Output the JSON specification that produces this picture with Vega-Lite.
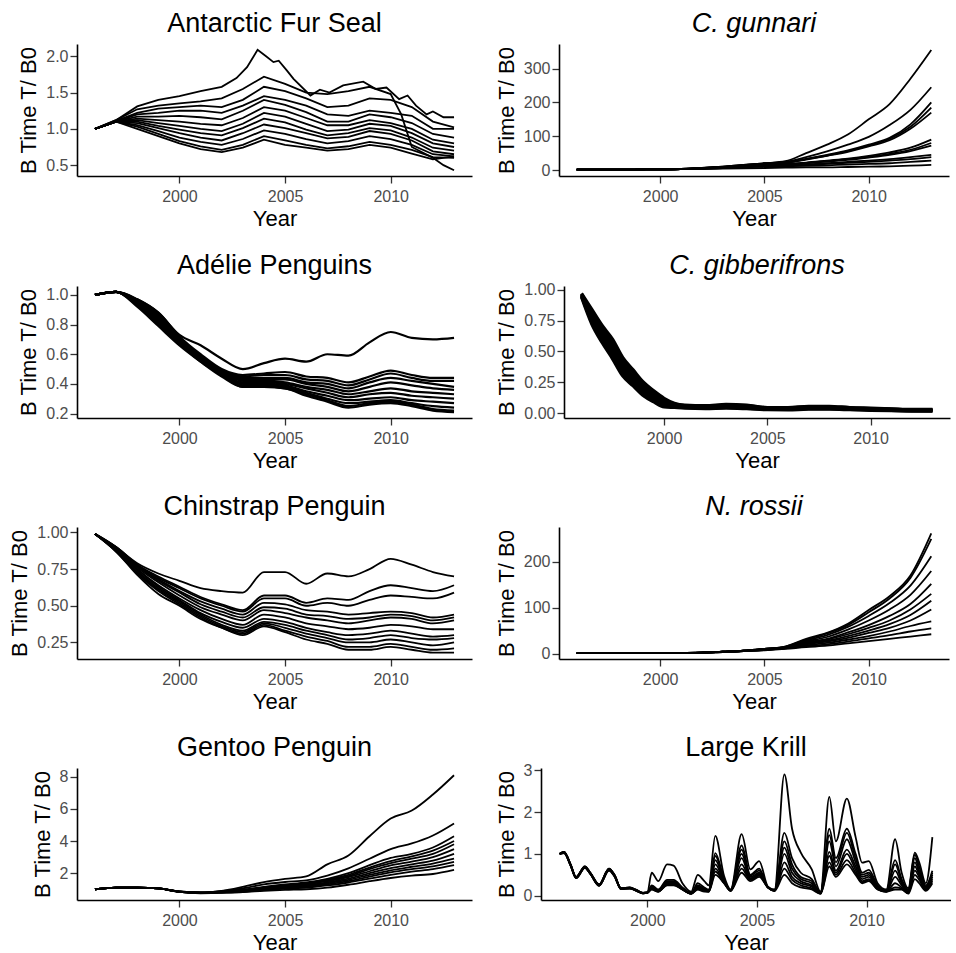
{
"$schema":"https://vega.github.io/schema/vega-lite/v6.json",
"padding":{"left":8,"top":10,"right":0,"bottom":0},
"spacing":22,
"config":{
 "font":"Liberation Sans",
 "view":{"stroke":null},
 "title":{"fontSize":27,"fontWeight":"normal","color":"black","anchor":"middle","frame":"group","offset":6},
 "axis":{"grid":false,"domainColor":"black","domainWidth":1.6,"tickColor":"#333333","tickWidth":1.3,"tickSize":7,"labelFontSize":16,"labelColor":"#4d4d4d","labelPadding":2,"titleFontSize":22,"titleFontWeight":"normal","titleColor":"black","titlePadding":5,"labelFlush":false,"labelOverlap":false},
 "axisX":{"labelPadding":5,"titlePadding":4},
 "line":{"color":"black","strokeWidth":1.8}
},
"datasets":{
"fur":[
{"s":1,"x":1996,"y":1},{"s":1,"x":1997,"y":1.12},{"s":1,"x":1998,"y":1.31},{"s":1,"x":1999,"y":1.4},{"s":1,"x":2000,"y":1.45},{"s":1,"x":2001,"y":1.52},{"s":1,"x":2002,"y":1.58},{"s":1,"x":2002.7,"y":1.7},{"s":1,"x":2003.2,"y":1.85},{"s":1,"x":2003.7,"y":2.09},{"s":1,"x":2004.1,"y":2},{"s":1,"x":2004.45,"y":1.92},{"s":1,"x":2004.7,"y":1.94},{"s":1,"x":2005.1,"y":1.8},{"s":1,"x":2005.4,"y":1.69},{"s":1,"x":2006.2,"y":1.46},{"s":1,"x":2006.65,"y":1.54},{"s":1,"x":2007.1,"y":1.5},{"s":1,"x":2007.75,"y":1.6},{"s":1,"x":2008.7,"y":1.65},{"s":1,"x":2009.3,"y":1.55},{"s":1,"x":2009.8,"y":1.57},{"s":1,"x":2010.4,"y":1.41},{"s":1,"x":2010.8,"y":1.46},{"s":1,"x":2011.2,"y":1.32},{"s":1,"x":2011.7,"y":1.2},{"s":1,"x":2012,"y":1.24},{"s":1,"x":2012.5,"y":1.16},{"s":1,"x":2013,"y":1.16},
{"s":2,"x":1996,"y":1},{"s":2,"x":1997,"y":1.12},{"s":2,"x":1998,"y":1.27},{"s":2,"x":1999,"y":1.32},{"s":2,"x":2000,"y":1.35},{"s":2,"x":2001,"y":1.38},{"s":2,"x":2002,"y":1.42},{"s":2,"x":2003,"y":1.55},{"s":2,"x":2004,"y":1.72},{"s":2,"x":2005,"y":1.62},{"s":2,"x":2006,"y":1.5},{"s":2,"x":2007,"y":1.48},{"s":2,"x":2008,"y":1.52},{"s":2,"x":2009,"y":1.58},{"s":2,"x":2010,"y":1.48},{"s":2,"x":2010.5,"y":1.2},{"s":2,"x":2011,"y":0.75},{"s":2,"x":2012,"y":0.6},{"s":2,"x":2012.5,"y":0.5},{"s":2,"x":2013,"y":0.43},
{"s":3,"x":1996,"y":1},{"s":3,"x":1997,"y":1.11},{"s":3,"x":1998,"y":1.22},{"s":3,"x":1999,"y":1.28},{"s":3,"x":2000,"y":1.3},{"s":3,"x":2001,"y":1.32},{"s":3,"x":2002,"y":1.3},{"s":3,"x":2003,"y":1.4},{"s":3,"x":2004,"y":1.58},{"s":3,"x":2005,"y":1.52},{"s":3,"x":2006,"y":1.42},{"s":3,"x":2007,"y":1.3},{"s":3,"x":2008,"y":1.32},{"s":3,"x":2009,"y":1.42},{"s":3,"x":2010,"y":1.4},{"s":3,"x":2011,"y":1.3},{"s":3,"x":2012,"y":1.1},{"s":3,"x":2013,"y":1.02},
{"s":4,"x":1996,"y":1},{"s":4,"x":1997,"y":1.1},{"s":4,"x":1998,"y":1.2},{"s":4,"x":1999,"y":1.22},{"s":4,"x":2000,"y":1.25},{"s":4,"x":2001,"y":1.25},{"s":4,"x":2002,"y":1.22},{"s":4,"x":2003,"y":1.32},{"s":4,"x":2004,"y":1.45},{"s":4,"x":2005,"y":1.4},{"s":4,"x":2006,"y":1.32},{"s":4,"x":2007,"y":1.2},{"s":4,"x":2008,"y":1.18},{"s":4,"x":2009,"y":1.25},{"s":4,"x":2010,"y":1.22},{"s":4,"x":2011,"y":1.18},{"s":4,"x":2012,"y":1},{"s":4,"x":2013,"y":1},
{"s":5,"x":1996,"y":1},{"s":5,"x":1997,"y":1.1},{"s":5,"x":1998,"y":1.17},{"s":5,"x":1999,"y":1.17},{"s":5,"x":2000,"y":1.18},{"s":5,"x":2001,"y":1.16},{"s":5,"x":2002,"y":1.13},{"s":5,"x":2003,"y":1.25},{"s":5,"x":2004,"y":1.4},{"s":5,"x":2005,"y":1.33},{"s":5,"x":2006,"y":1.23},{"s":5,"x":2007,"y":1.1},{"s":5,"x":2008,"y":1.1},{"s":5,"x":2009,"y":1.2},{"s":5,"x":2010,"y":1.16},{"s":5,"x":2011,"y":1.08},{"s":5,"x":2012,"y":0.93},{"s":5,"x":2013,"y":0.88},
{"s":6,"x":1996,"y":1},{"s":6,"x":1997,"y":1.1},{"s":6,"x":1998,"y":1.14},{"s":6,"x":1999,"y":1.12},{"s":6,"x":2000,"y":1.1},{"s":6,"x":2001,"y":1.07},{"s":6,"x":2002,"y":1.05},{"s":6,"x":2003,"y":1.15},{"s":6,"x":2004,"y":1.3},{"s":6,"x":2005,"y":1.25},{"s":6,"x":2006,"y":1.15},{"s":6,"x":2007,"y":1.05},{"s":6,"x":2008,"y":1.05},{"s":6,"x":2009,"y":1.12},{"s":6,"x":2010,"y":1.08},{"s":6,"x":2011,"y":1},{"s":6,"x":2012,"y":0.85},{"s":6,"x":2013,"y":0.8},
{"s":7,"x":1996,"y":1},{"s":7,"x":1997,"y":1.1},{"s":7,"x":1998,"y":1.12},{"s":7,"x":1999,"y":1.08},{"s":7,"x":2000,"y":1.04},{"s":7,"x":2001,"y":1},{"s":7,"x":2002,"y":0.97},{"s":7,"x":2003,"y":1.07},{"s":7,"x":2004,"y":1.22},{"s":7,"x":2005,"y":1.17},{"s":7,"x":2006,"y":1.07},{"s":7,"x":2007,"y":0.97},{"s":7,"x":2008,"y":0.99},{"s":7,"x":2009,"y":1.07},{"s":7,"x":2010,"y":1.04},{"s":7,"x":2011,"y":0.94},{"s":7,"x":2012,"y":0.8},{"s":7,"x":2013,"y":0.75},
{"s":8,"x":1996,"y":1},{"s":8,"x":1997,"y":1.1},{"s":8,"x":1998,"y":1.1},{"s":8,"x":1999,"y":1.04},{"s":8,"x":2000,"y":0.99},{"s":8,"x":2001,"y":0.94},{"s":8,"x":2002,"y":0.91},{"s":8,"x":2003,"y":1.01},{"s":8,"x":2004,"y":1.14},{"s":8,"x":2005,"y":1.09},{"s":8,"x":2006,"y":0.99},{"s":8,"x":2007,"y":0.91},{"s":8,"x":2008,"y":0.94},{"s":8,"x":2009,"y":1.01},{"s":8,"x":2010,"y":0.98},{"s":8,"x":2011,"y":0.88},{"s":8,"x":2012,"y":0.74},{"s":8,"x":2013,"y":0.7},
{"s":9,"x":1996,"y":1},{"s":9,"x":1997,"y":1.1},{"s":9,"x":1998,"y":1.08},{"s":9,"x":1999,"y":1.01},{"s":9,"x":2000,"y":0.94},{"s":9,"x":2001,"y":0.88},{"s":9,"x":2002,"y":0.84},{"s":9,"x":2003,"y":0.94},{"s":9,"x":2004,"y":1.06},{"s":9,"x":2005,"y":1.01},{"s":9,"x":2006,"y":0.94},{"s":9,"x":2007,"y":0.87},{"s":9,"x":2008,"y":0.89},{"s":9,"x":2009,"y":0.97},{"s":9,"x":2010,"y":0.93},{"s":9,"x":2011,"y":0.84},{"s":9,"x":2012,"y":0.69},{"s":9,"x":2013,"y":0.65},
{"s":10,"x":1996,"y":1},{"s":10,"x":1997,"y":1.1},{"s":10,"x":1998,"y":1.05},{"s":10,"x":1999,"y":0.97},{"s":10,"x":2000,"y":0.88},{"s":10,"x":2001,"y":0.82},{"s":10,"x":2002,"y":0.78},{"s":10,"x":2003,"y":0.86},{"s":10,"x":2004,"y":0.98},{"s":10,"x":2005,"y":0.93},{"s":10,"x":2006,"y":0.86},{"s":10,"x":2007,"y":0.8},{"s":10,"x":2008,"y":0.83},{"s":10,"x":2009,"y":0.9},{"s":10,"x":2010,"y":0.86},{"s":10,"x":2011,"y":0.78},{"s":10,"x":2012,"y":0.65},{"s":10,"x":2013,"y":0.62},
{"s":11,"x":1996,"y":1},{"s":11,"x":1997,"y":1.1},{"s":11,"x":1998,"y":1.03},{"s":11,"x":1999,"y":0.93},{"s":11,"x":2000,"y":0.83},{"s":11,"x":2001,"y":0.76},{"s":11,"x":2002,"y":0.71},{"s":11,"x":2003,"y":0.78},{"s":11,"x":2004,"y":0.9},{"s":11,"x":2005,"y":0.84},{"s":11,"x":2006,"y":0.78},{"s":11,"x":2007,"y":0.73},{"s":11,"x":2008,"y":0.76},{"s":11,"x":2009,"y":0.82},{"s":11,"x":2010,"y":0.78},{"s":11,"x":2011,"y":0.71},{"s":11,"x":2012,"y":0.61},{"s":11,"x":2013,"y":0.6},
{"s":12,"x":1996,"y":1},{"s":12,"x":1997,"y":1.1},{"s":12,"x":1998,"y":1},{"s":12,"x":1999,"y":0.9},{"s":12,"x":2000,"y":0.8},{"s":12,"x":2001,"y":0.72},{"s":12,"x":2002,"y":0.68},{"s":12,"x":2003,"y":0.74},{"s":12,"x":2004,"y":0.85},{"s":12,"x":2005,"y":0.78},{"s":12,"x":2006,"y":0.74},{"s":12,"x":2007,"y":0.7},{"s":12,"x":2008,"y":0.72},{"s":12,"x":2009,"y":0.78},{"s":12,"x":2010,"y":0.74},{"s":12,"x":2011,"y":0.66},{"s":12,"x":2012,"y":0.58},{"s":12,"x":2013,"y":0.62}
],
"gun":[
{"s":1,"x":1996,"y":1},{"s":1,"x":1997,"y":1},{"s":1,"x":1998,"y":1},{"s":1,"x":1999,"y":1.5},{"s":1,"x":2000,"y":2},{"s":1,"x":2001,"y":3},{"s":1,"x":2002,"y":6},{"s":1,"x":2003,"y":10},{"s":1,"x":2004,"y":15},{"s":1,"x":2005,"y":20},{"s":1,"x":2006,"y":26},{"s":1,"x":2007,"y":50},{"s":1,"x":2008,"y":75},{"s":1,"x":2009,"y":105},{"s":1,"x":2010,"y":150},{"s":1,"x":2011,"y":195},{"s":1,"x":2012,"y":270},{"s":1,"x":2013,"y":355},
{"s":2,"x":1996,"y":1},{"s":2,"x":1997,"y":1},{"s":2,"x":1998,"y":1},{"s":2,"x":1999,"y":1.5},{"s":2,"x":2000,"y":2},{"s":2,"x":2001,"y":3},{"s":2,"x":2002,"y":6},{"s":2,"x":2003,"y":10},{"s":2,"x":2004,"y":15},{"s":2,"x":2005,"y":20},{"s":2,"x":2006,"y":24},{"s":2,"x":2007,"y":38},{"s":2,"x":2008,"y":55},{"s":2,"x":2009,"y":75},{"s":2,"x":2010,"y":98},{"s":2,"x":2011,"y":133},{"s":2,"x":2012,"y":178},{"s":2,"x":2013,"y":245},
{"s":3,"x":1996,"y":1},{"s":3,"x":1997,"y":1},{"s":3,"x":1998,"y":1},{"s":3,"x":1999,"y":1.5},{"s":3,"x":2000,"y":2},{"s":3,"x":2001,"y":3},{"s":3,"x":2002,"y":6},{"s":3,"x":2003,"y":9},{"s":3,"x":2004,"y":14},{"s":3,"x":2005,"y":19},{"s":3,"x":2006,"y":22},{"s":3,"x":2007,"y":33},{"s":3,"x":2008,"y":45},{"s":3,"x":2009,"y":58},{"s":3,"x":2010,"y":75},{"s":3,"x":2011,"y":95},{"s":3,"x":2012,"y":135},{"s":3,"x":2013,"y":200},
{"s":4,"x":1996,"y":1},{"s":4,"x":1997,"y":1},{"s":4,"x":1998,"y":1},{"s":4,"x":1999,"y":1.5},{"s":4,"x":2000,"y":2},{"s":4,"x":2001,"y":3},{"s":4,"x":2002,"y":6},{"s":4,"x":2003,"y":9},{"s":4,"x":2004,"y":14},{"s":4,"x":2005,"y":19},{"s":4,"x":2006,"y":22},{"s":4,"x":2007,"y":32},{"s":4,"x":2008,"y":43},{"s":4,"x":2009,"y":56},{"s":4,"x":2010,"y":72},{"s":4,"x":2011,"y":92},{"s":4,"x":2012,"y":128},{"s":4,"x":2013,"y":185},
{"s":5,"x":1996,"y":1},{"s":5,"x":1997,"y":1},{"s":5,"x":1998,"y":1},{"s":5,"x":1999,"y":1.5},{"s":5,"x":2000,"y":2},{"s":5,"x":2001,"y":3},{"s":5,"x":2002,"y":5},{"s":5,"x":2003,"y":9},{"s":5,"x":2004,"y":13},{"s":5,"x":2005,"y":18},{"s":5,"x":2006,"y":21},{"s":5,"x":2007,"y":31},{"s":5,"x":2008,"y":42},{"s":5,"x":2009,"y":54},{"s":5,"x":2010,"y":70},{"s":5,"x":2011,"y":88},{"s":5,"x":2012,"y":122},{"s":5,"x":2013,"y":170},
{"s":6,"x":1996,"y":1},{"s":6,"x":1997,"y":1},{"s":6,"x":1998,"y":1},{"s":6,"x":1999,"y":1.5},{"s":6,"x":2000,"y":2},{"s":6,"x":2001,"y":3},{"s":6,"x":2002,"y":5},{"s":6,"x":2003,"y":8},{"s":6,"x":2004,"y":12},{"s":6,"x":2005,"y":16},{"s":6,"x":2006,"y":18},{"s":6,"x":2007,"y":22},{"s":6,"x":2008,"y":28},{"s":6,"x":2009,"y":34},{"s":6,"x":2010,"y":42},{"s":6,"x":2011,"y":52},{"s":6,"x":2012,"y":66},{"s":6,"x":2013,"y":90},
{"s":7,"x":1996,"y":1},{"s":7,"x":1997,"y":1},{"s":7,"x":1998,"y":1},{"s":7,"x":1999,"y":1.5},{"s":7,"x":2000,"y":2},{"s":7,"x":2001,"y":3},{"s":7,"x":2002,"y":5},{"s":7,"x":2003,"y":8},{"s":7,"x":2004,"y":11},{"s":7,"x":2005,"y":15},{"s":7,"x":2006,"y":17},{"s":7,"x":2007,"y":21},{"s":7,"x":2008,"y":26},{"s":7,"x":2009,"y":32},{"s":7,"x":2010,"y":39},{"s":7,"x":2011,"y":48},{"s":7,"x":2012,"y":60},{"s":7,"x":2013,"y":80},
{"s":8,"x":1996,"y":1},{"s":8,"x":1997,"y":1},{"s":8,"x":1998,"y":1},{"s":8,"x":1999,"y":1.5},{"s":8,"x":2000,"y":2},{"s":8,"x":2001,"y":3},{"s":8,"x":2002,"y":5},{"s":8,"x":2003,"y":8},{"s":8,"x":2004,"y":11},{"s":8,"x":2005,"y":14},{"s":8,"x":2006,"y":16},{"s":8,"x":2007,"y":20},{"s":8,"x":2008,"y":25},{"s":8,"x":2009,"y":30},{"s":8,"x":2010,"y":37},{"s":8,"x":2011,"y":45},{"s":8,"x":2012,"y":56},{"s":8,"x":2013,"y":72},
{"s":9,"x":1996,"y":1},{"s":9,"x":1997,"y":1},{"s":9,"x":1998,"y":1},{"s":9,"x":1999,"y":1.5},{"s":9,"x":2000,"y":2},{"s":9,"x":2001,"y":3},{"s":9,"x":2002,"y":5},{"s":9,"x":2003,"y":7},{"s":9,"x":2004,"y":10},{"s":9,"x":2005,"y":13},{"s":9,"x":2006,"y":14},{"s":9,"x":2007,"y":16},{"s":9,"x":2008,"y":20},{"s":9,"x":2009,"y":24},{"s":9,"x":2010,"y":28},{"s":9,"x":2011,"y":32},{"s":9,"x":2012,"y":38},{"s":9,"x":2013,"y":45},
{"s":10,"x":1996,"y":1},{"s":10,"x":1997,"y":1},{"s":10,"x":1998,"y":1},{"s":10,"x":1999,"y":1.5},{"s":10,"x":2000,"y":2},{"s":10,"x":2001,"y":3},{"s":10,"x":2002,"y":4},{"s":10,"x":2003,"y":7},{"s":10,"x":2004,"y":9},{"s":10,"x":2005,"y":12},{"s":10,"x":2006,"y":13},{"s":10,"x":2007,"y":15},{"s":10,"x":2008,"y":18},{"s":10,"x":2009,"y":21},{"s":10,"x":2010,"y":24},{"s":10,"x":2011,"y":28},{"s":10,"x":2012,"y":32},{"s":10,"x":2013,"y":38},
{"s":11,"x":1996,"y":1},{"s":11,"x":1997,"y":1},{"s":11,"x":1998,"y":1},{"s":11,"x":1999,"y":1.5},{"s":11,"x":2000,"y":2},{"s":11,"x":2001,"y":3},{"s":11,"x":2002,"y":4},{"s":11,"x":2003,"y":6},{"s":11,"x":2004,"y":8},{"s":11,"x":2005,"y":10},{"s":11,"x":2006,"y":11},{"s":11,"x":2007,"y":12},{"s":11,"x":2008,"y":14},{"s":11,"x":2009,"y":16},{"s":11,"x":2010,"y":18},{"s":11,"x":2011,"y":20},{"s":11,"x":2012,"y":24},{"s":11,"x":2013,"y":28},
{"s":12,"x":1996,"y":1},{"s":12,"x":1997,"y":1},{"s":12,"x":1998,"y":1},{"s":12,"x":1999,"y":1.5},{"s":12,"x":2000,"y":2},{"s":12,"x":2001,"y":2.5},{"s":12,"x":2002,"y":3},{"s":12,"x":2003,"y":4},{"s":12,"x":2004,"y":5},{"s":12,"x":2005,"y":6},{"s":12,"x":2006,"y":7},{"s":12,"x":2007,"y":8},{"s":12,"x":2008,"y":8},{"s":12,"x":2009,"y":9},{"s":12,"x":2010,"y":10},{"s":12,"x":2011,"y":11},{"s":12,"x":2012,"y":13},{"s":12,"x":2013,"y":15}
],
"ade":[
{"s":1,"x":1996,"y":1},{"s":1,"x":1997,"y":1.02},{"s":1,"x":1998,"y":0.97},{"s":1,"x":1999,"y":0.88},{"s":1,"x":2000,"y":0.73},{"s":1,"x":2001,"y":0.66},{"s":1,"x":2002,"y":0.57},{"s":1,"x":2003,"y":0.5},{"s":1,"x":2004,"y":0.54},{"s":1,"x":2005,"y":0.57},{"s":1,"x":2006,"y":0.55},{"s":1,"x":2007,"y":0.6},{"s":1,"x":2008,"y":0.59},{"s":1,"x":2009,"y":0.68},{"s":1,"x":2010,"y":0.75},{"s":1,"x":2011,"y":0.71},{"s":1,"x":2012,"y":0.7},{"s":1,"x":2013,"y":0.71},
{"s":2,"x":1996,"y":1},{"s":2,"x":1997,"y":1.02},{"s":2,"x":1998,"y":0.97},{"s":2,"x":1999,"y":0.88},{"s":2,"x":2000,"y":0.72},{"s":2,"x":2001,"y":0.6},{"s":2,"x":2002,"y":0.5},{"s":2,"x":2003,"y":0.46},{"s":2,"x":2004,"y":0.47},{"s":2,"x":2005,"y":0.48},{"s":2,"x":2006,"y":0.45},{"s":2,"x":2007,"y":0.44},{"s":2,"x":2008,"y":0.41},{"s":2,"x":2009,"y":0.45},{"s":2,"x":2010,"y":0.49},{"s":2,"x":2011,"y":0.46},{"s":2,"x":2012,"y":0.44},{"s":2,"x":2013,"y":0.44},
{"s":3,"x":1996,"y":1},{"s":3,"x":1997,"y":1.02},{"s":3,"x":1998,"y":0.96},{"s":3,"x":1999,"y":0.87},{"s":3,"x":2000,"y":0.71},{"s":3,"x":2001,"y":0.59},{"s":3,"x":2002,"y":0.49},{"s":3,"x":2003,"y":0.45},{"s":3,"x":2004,"y":0.46},{"s":3,"x":2005,"y":0.46},{"s":3,"x":2006,"y":0.43},{"s":3,"x":2007,"y":0.42},{"s":3,"x":2008,"y":0.39},{"s":3,"x":2009,"y":0.43},{"s":3,"x":2010,"y":0.47},{"s":3,"x":2011,"y":0.44},{"s":3,"x":2012,"y":0.42},{"s":3,"x":2013,"y":0.42},
{"s":4,"x":1996,"y":1},{"s":4,"x":1997,"y":1.02},{"s":4,"x":1998,"y":0.96},{"s":4,"x":1999,"y":0.86},{"s":4,"x":2000,"y":0.71},{"s":4,"x":2001,"y":0.58},{"s":4,"x":2002,"y":0.49},{"s":4,"x":2003,"y":0.44},{"s":4,"x":2004,"y":0.44},{"s":4,"x":2005,"y":0.44},{"s":4,"x":2006,"y":0.41},{"s":4,"x":2007,"y":0.4},{"s":4,"x":2008,"y":0.37},{"s":4,"x":2009,"y":0.41},{"s":4,"x":2010,"y":0.44},{"s":4,"x":2011,"y":0.42},{"s":4,"x":2012,"y":0.4},{"s":4,"x":2013,"y":0.38},
{"s":5,"x":1996,"y":1},{"s":5,"x":1997,"y":1.02},{"s":5,"x":1998,"y":0.95},{"s":5,"x":1999,"y":0.85},{"s":5,"x":2000,"y":0.7},{"s":5,"x":2001,"y":0.58},{"s":5,"x":2002,"y":0.48},{"s":5,"x":2003,"y":0.43},{"s":5,"x":2004,"y":0.43},{"s":5,"x":2005,"y":0.43},{"s":5,"x":2006,"y":0.4},{"s":5,"x":2007,"y":0.38},{"s":5,"x":2008,"y":0.35},{"s":5,"x":2009,"y":0.38},{"s":5,"x":2010,"y":0.41},{"s":5,"x":2011,"y":0.39},{"s":5,"x":2012,"y":0.37},{"s":5,"x":2013,"y":0.36},
{"s":6,"x":1996,"y":1},{"s":6,"x":1997,"y":1.02},{"s":6,"x":1998,"y":0.95},{"s":6,"x":1999,"y":0.84},{"s":6,"x":2000,"y":0.69},{"s":6,"x":2001,"y":0.57},{"s":6,"x":2002,"y":0.48},{"s":6,"x":2003,"y":0.42},{"s":6,"x":2004,"y":0.42},{"s":6,"x":2005,"y":0.41},{"s":6,"x":2006,"y":0.38},{"s":6,"x":2007,"y":0.36},{"s":6,"x":2008,"y":0.33},{"s":6,"x":2009,"y":0.35},{"s":6,"x":2010,"y":0.37},{"s":6,"x":2011,"y":0.35},{"s":6,"x":2012,"y":0.34},{"s":6,"x":2013,"y":0.33},
{"s":7,"x":1996,"y":1},{"s":7,"x":1997,"y":1.02},{"s":7,"x":1998,"y":0.94},{"s":7,"x":1999,"y":0.83},{"s":7,"x":2000,"y":0.69},{"s":7,"x":2001,"y":0.57},{"s":7,"x":2002,"y":0.47},{"s":7,"x":2003,"y":0.41},{"s":7,"x":2004,"y":0.41},{"s":7,"x":2005,"y":0.4},{"s":7,"x":2006,"y":0.37},{"s":7,"x":2007,"y":0.34},{"s":7,"x":2008,"y":0.31},{"s":7,"x":2009,"y":0.33},{"s":7,"x":2010,"y":0.34},{"s":7,"x":2011,"y":0.32},{"s":7,"x":2012,"y":0.31},{"s":7,"x":2013,"y":0.3},
{"s":8,"x":1996,"y":1},{"s":8,"x":1997,"y":1.02},{"s":8,"x":1998,"y":0.94},{"s":8,"x":1999,"y":0.82},{"s":8,"x":2000,"y":0.68},{"s":8,"x":2001,"y":0.56},{"s":8,"x":2002,"y":0.47},{"s":8,"x":2003,"y":0.4},{"s":8,"x":2004,"y":0.4},{"s":8,"x":2005,"y":0.39},{"s":8,"x":2006,"y":0.35},{"s":8,"x":2007,"y":0.32},{"s":8,"x":2008,"y":0.29},{"s":8,"x":2009,"y":0.3},{"s":8,"x":2010,"y":0.31},{"s":8,"x":2011,"y":0.29},{"s":8,"x":2012,"y":0.28},{"s":8,"x":2013,"y":0.27},
{"s":9,"x":1996,"y":1},{"s":9,"x":1997,"y":1.02},{"s":9,"x":1998,"y":0.93},{"s":9,"x":1999,"y":0.81},{"s":9,"x":2000,"y":0.67},{"s":9,"x":2001,"y":0.56},{"s":9,"x":2002,"y":0.46},{"s":9,"x":2003,"y":0.39},{"s":9,"x":2004,"y":0.39},{"s":9,"x":2005,"y":0.38},{"s":9,"x":2006,"y":0.34},{"s":9,"x":2007,"y":0.3},{"s":9,"x":2008,"y":0.27},{"s":9,"x":2009,"y":0.28},{"s":9,"x":2010,"y":0.29},{"s":9,"x":2011,"y":0.27},{"s":9,"x":2012,"y":0.25},{"s":9,"x":2013,"y":0.24},
{"s":10,"x":1996,"y":1},{"s":10,"x":1997,"y":1.02},{"s":10,"x":1998,"y":0.93},{"s":10,"x":1999,"y":0.8},{"s":10,"x":2000,"y":0.67},{"s":10,"x":2001,"y":0.55},{"s":10,"x":2002,"y":0.46},{"s":10,"x":2003,"y":0.38},{"s":10,"x":2004,"y":0.38},{"s":10,"x":2005,"y":0.37},{"s":10,"x":2006,"y":0.33},{"s":10,"x":2007,"y":0.29},{"s":10,"x":2008,"y":0.25},{"s":10,"x":2009,"y":0.27},{"s":10,"x":2010,"y":0.28},{"s":10,"x":2011,"y":0.26},{"s":10,"x":2012,"y":0.23},{"s":10,"x":2013,"y":0.22},
{"s":11,"x":1996,"y":1},{"s":11,"x":1997,"y":1.02},{"s":11,"x":1998,"y":0.92},{"s":11,"x":1999,"y":0.79},{"s":11,"x":2000,"y":0.66},{"s":11,"x":2001,"y":0.55},{"s":11,"x":2002,"y":0.45},{"s":11,"x":2003,"y":0.38},{"s":11,"x":2004,"y":0.38},{"s":11,"x":2005,"y":0.37},{"s":11,"x":2006,"y":0.32},{"s":11,"x":2007,"y":0.28},{"s":11,"x":2008,"y":0.24},{"s":11,"x":2009,"y":0.26},{"s":11,"x":2010,"y":0.27},{"s":11,"x":2011,"y":0.25},{"s":11,"x":2012,"y":0.22},{"s":11,"x":2013,"y":0.21}
],
"gib":[
{"s":1,"x":1996,"y":0.97},{"s":1,"x":1996.5,"y":0.84},{"s":1,"x":1997,"y":0.71},{"s":1,"x":1997.5,"y":0.6},{"s":1,"x":1998,"y":0.45},{"s":1,"x":1998.5,"y":0.35},{"s":1,"x":1999,"y":0.25},{"s":1,"x":1999.5,"y":0.18},{"s":1,"x":2000,"y":0.12},{"s":1,"x":2000.5,"y":0.08},{"s":1,"x":2001,"y":0.065},{"s":1,"x":2002,"y":0.06},{"s":1,"x":2003,"y":0.07},{"s":1,"x":2004,"y":0.065},{"s":1,"x":2005,"y":0.045},{"s":1,"x":2006,"y":0.045},{"s":1,"x":2007,"y":0.055},{"s":1,"x":2008,"y":0.055},{"s":1,"x":2009,"y":0.045},{"s":1,"x":2010,"y":0.04},{"s":1,"x":2011,"y":0.035},{"s":1,"x":2012,"y":0.03},{"s":1,"x":2013,"y":0.03},
{"s":2,"x":1996,"y":0.965},{"s":2,"x":1996.5,"y":0.82},{"s":2,"x":1997,"y":0.69},{"s":2,"x":1997.5,"y":0.57},{"s":2,"x":1998,"y":0.43},{"s":2,"x":1998.5,"y":0.33},{"s":2,"x":1999,"y":0.23},{"s":2,"x":1999.5,"y":0.165},{"s":2,"x":2000,"y":0.108},{"s":2,"x":2000.5,"y":0.074},{"s":2,"x":2001,"y":0.061},{"s":2,"x":2002,"y":0.056},{"s":2,"x":2003,"y":0.065},{"s":2,"x":2004,"y":0.06},{"s":2,"x":2005,"y":0.043},{"s":2,"x":2006,"y":0.042},{"s":2,"x":2007,"y":0.051},{"s":2,"x":2008,"y":0.051},{"s":2,"x":2009,"y":0.043},{"s":2,"x":2010,"y":0.037},{"s":2,"x":2011,"y":0.033},{"s":2,"x":2012,"y":0.028},{"s":2,"x":2013,"y":0.028},
{"s":3,"x":1996,"y":0.96},{"s":3,"x":1996.5,"y":0.8},{"s":3,"x":1997,"y":0.66},{"s":3,"x":1997.5,"y":0.54},{"s":3,"x":1998,"y":0.4},{"s":3,"x":1998.5,"y":0.3},{"s":3,"x":1999,"y":0.21},{"s":3,"x":1999.5,"y":0.15},{"s":3,"x":2000,"y":0.095},{"s":3,"x":2000.5,"y":0.068},{"s":3,"x":2001,"y":0.057},{"s":3,"x":2002,"y":0.052},{"s":3,"x":2003,"y":0.06},{"s":3,"x":2004,"y":0.055},{"s":3,"x":2005,"y":0.04},{"s":3,"x":2006,"y":0.039},{"s":3,"x":2007,"y":0.047},{"s":3,"x":2008,"y":0.047},{"s":3,"x":2009,"y":0.04},{"s":3,"x":2010,"y":0.034},{"s":3,"x":2011,"y":0.031},{"s":3,"x":2012,"y":0.026},{"s":3,"x":2013,"y":0.025},
{"s":4,"x":1996,"y":0.955},{"s":4,"x":1996.5,"y":0.78},{"s":4,"x":1997,"y":0.64},{"s":4,"x":1997.5,"y":0.52},{"s":4,"x":1998,"y":0.38},{"s":4,"x":1998.5,"y":0.28},{"s":4,"x":1999,"y":0.195},{"s":4,"x":1999.5,"y":0.135},{"s":4,"x":2000,"y":0.085},{"s":4,"x":2000.5,"y":0.062},{"s":4,"x":2001,"y":0.053},{"s":4,"x":2002,"y":0.048},{"s":4,"x":2003,"y":0.055},{"s":4,"x":2004,"y":0.05},{"s":4,"x":2005,"y":0.037},{"s":4,"x":2006,"y":0.036},{"s":4,"x":2007,"y":0.043},{"s":4,"x":2008,"y":0.043},{"s":4,"x":2009,"y":0.037},{"s":4,"x":2010,"y":0.031},{"s":4,"x":2011,"y":0.028},{"s":4,"x":2012,"y":0.024},{"s":4,"x":2013,"y":0.023},
{"s":5,"x":1996,"y":0.95},{"s":5,"x":1996.5,"y":0.76},{"s":5,"x":1997,"y":0.62},{"s":5,"x":1997.5,"y":0.49},{"s":5,"x":1998,"y":0.35},{"s":5,"x":1998.5,"y":0.26},{"s":5,"x":1999,"y":0.18},{"s":5,"x":1999.5,"y":0.12},{"s":5,"x":2000,"y":0.075},{"s":5,"x":2000.5,"y":0.057},{"s":5,"x":2001,"y":0.049},{"s":5,"x":2002,"y":0.044},{"s":5,"x":2003,"y":0.05},{"s":5,"x":2004,"y":0.045},{"s":5,"x":2005,"y":0.034},{"s":5,"x":2006,"y":0.033},{"s":5,"x":2007,"y":0.039},{"s":5,"x":2008,"y":0.039},{"s":5,"x":2009,"y":0.034},{"s":5,"x":2010,"y":0.028},{"s":5,"x":2011,"y":0.025},{"s":5,"x":2012,"y":0.021},{"s":5,"x":2013,"y":0.02},
{"s":6,"x":1996,"y":0.945},{"s":6,"x":1996.5,"y":0.74},{"s":6,"x":1997,"y":0.59},{"s":6,"x":1997.5,"y":0.47},{"s":6,"x":1998,"y":0.33},{"s":6,"x":1998.5,"y":0.24},{"s":6,"x":1999,"y":0.16},{"s":6,"x":1999.5,"y":0.105},{"s":6,"x":2000,"y":0.062},{"s":6,"x":2000.5,"y":0.051},{"s":6,"x":2001,"y":0.045},{"s":6,"x":2002,"y":0.04},{"s":6,"x":2003,"y":0.045},{"s":6,"x":2004,"y":0.04},{"s":6,"x":2005,"y":0.03},{"s":6,"x":2006,"y":0.03},{"s":6,"x":2007,"y":0.035},{"s":6,"x":2008,"y":0.035},{"s":6,"x":2009,"y":0.03},{"s":6,"x":2010,"y":0.025},{"s":6,"x":2011,"y":0.022},{"s":6,"x":2012,"y":0.018},{"s":6,"x":2013,"y":0.018},
{"s":7,"x":1996,"y":0.94},{"s":7,"x":1996.5,"y":0.72},{"s":7,"x":1997,"y":0.57},{"s":7,"x":1997.5,"y":0.44},{"s":7,"x":1998,"y":0.3},{"s":7,"x":1998.5,"y":0.22},{"s":7,"x":1999,"y":0.14},{"s":7,"x":1999.5,"y":0.09},{"s":7,"x":2000,"y":0.05},{"s":7,"x":2000.5,"y":0.045},{"s":7,"x":2001,"y":0.04},{"s":7,"x":2002,"y":0.036},{"s":7,"x":2003,"y":0.04},{"s":7,"x":2004,"y":0.035},{"s":7,"x":2005,"y":0.027},{"s":7,"x":2006,"y":0.026},{"s":7,"x":2007,"y":0.031},{"s":7,"x":2008,"y":0.031},{"s":7,"x":2009,"y":0.027},{"s":7,"x":2010,"y":0.022},{"s":7,"x":2011,"y":0.019},{"s":7,"x":2012,"y":0.016},{"s":7,"x":2013,"y":0.015}
],
"chi":[
{"s":1,"x":1996,"y":0.99},{"s":1,"x":1997,"y":0.9},{"s":1,"x":1998,"y":0.79},{"s":1,"x":1999,"y":0.72},{"s":1,"x":2000,"y":0.67},{"s":1,"x":2001,"y":0.62},{"s":1,"x":2002,"y":0.6},{"s":1,"x":2003,"y":0.59},{"s":1,"x":2004,"y":0.73},{"s":1,"x":2005,"y":0.73},{"s":1,"x":2006,"y":0.65},{"s":1,"x":2007,"y":0.72},{"s":1,"x":2008,"y":0.7},{"s":1,"x":2009,"y":0.75},{"s":1,"x":2010,"y":0.82},{"s":1,"x":2011,"y":0.78},{"s":1,"x":2012,"y":0.73},{"s":1,"x":2013,"y":0.7},
{"s":2,"x":1996,"y":0.99},{"s":2,"x":1997,"y":0.9},{"s":2,"x":1998,"y":0.78},{"s":2,"x":1999,"y":0.7},{"s":2,"x":2000,"y":0.63},{"s":2,"x":2001,"y":0.56},{"s":2,"x":2002,"y":0.51},{"s":2,"x":2003,"y":0.47},{"s":2,"x":2004,"y":0.57},{"s":2,"x":2005,"y":0.57},{"s":2,"x":2006,"y":0.52},{"s":2,"x":2007,"y":0.55},{"s":2,"x":2008,"y":0.54},{"s":2,"x":2009,"y":0.6},{"s":2,"x":2010,"y":0.64},{"s":2,"x":2011,"y":0.62},{"s":2,"x":2012,"y":0.6},{"s":2,"x":2013,"y":0.64},
{"s":3,"x":1996,"y":0.99},{"s":3,"x":1997,"y":0.9},{"s":3,"x":1998,"y":0.78},{"s":3,"x":1999,"y":0.69},{"s":3,"x":2000,"y":0.62},{"s":3,"x":2001,"y":0.55},{"s":3,"x":2002,"y":0.5},{"s":3,"x":2003,"y":0.46},{"s":3,"x":2004,"y":0.55},{"s":3,"x":2005,"y":0.55},{"s":3,"x":2006,"y":0.5},{"s":3,"x":2007,"y":0.52},{"s":3,"x":2008,"y":0.5},{"s":3,"x":2009,"y":0.54},{"s":3,"x":2010,"y":0.57},{"s":3,"x":2011,"y":0.56},{"s":3,"x":2012,"y":0.55},{"s":3,"x":2013,"y":0.59},
{"s":4,"x":1996,"y":0.99},{"s":4,"x":1997,"y":0.89},{"s":4,"x":1998,"y":0.77},{"s":4,"x":1999,"y":0.68},{"s":4,"x":2000,"y":0.6},{"s":4,"x":2001,"y":0.53},{"s":4,"x":2002,"y":0.48},{"s":4,"x":2003,"y":0.44},{"s":4,"x":2004,"y":0.52},{"s":4,"x":2005,"y":0.51},{"s":4,"x":2006,"y":0.47},{"s":4,"x":2007,"y":0.46},{"s":4,"x":2008,"y":0.44},{"s":4,"x":2009,"y":0.45},{"s":4,"x":2010,"y":0.46},{"s":4,"x":2011,"y":0.45},{"s":4,"x":2012,"y":0.42},{"s":4,"x":2013,"y":0.44},
{"s":5,"x":1996,"y":0.99},{"s":5,"x":1997,"y":0.89},{"s":5,"x":1998,"y":0.77},{"s":5,"x":1999,"y":0.67},{"s":5,"x":2000,"y":0.59},{"s":5,"x":2001,"y":0.51},{"s":5,"x":2002,"y":0.46},{"s":5,"x":2003,"y":0.42},{"s":5,"x":2004,"y":0.49},{"s":5,"x":2005,"y":0.48},{"s":5,"x":2006,"y":0.44},{"s":5,"x":2007,"y":0.43},{"s":5,"x":2008,"y":0.41},{"s":5,"x":2009,"y":0.42},{"s":5,"x":2010,"y":0.44},{"s":5,"x":2011,"y":0.43},{"s":5,"x":2012,"y":0.4},{"s":5,"x":2013,"y":0.42},
{"s":6,"x":1996,"y":0.99},{"s":6,"x":1997,"y":0.89},{"s":6,"x":1998,"y":0.76},{"s":6,"x":1999,"y":0.66},{"s":6,"x":2000,"y":0.57},{"s":6,"x":2001,"y":0.49},{"s":6,"x":2002,"y":0.44},{"s":6,"x":2003,"y":0.4},{"s":6,"x":2004,"y":0.47},{"s":6,"x":2005,"y":0.45},{"s":6,"x":2006,"y":0.42},{"s":6,"x":2007,"y":0.4},{"s":6,"x":2008,"y":0.38},{"s":6,"x":2009,"y":0.4},{"s":6,"x":2010,"y":0.42},{"s":6,"x":2011,"y":0.41},{"s":6,"x":2012,"y":0.38},{"s":6,"x":2013,"y":0.4},
{"s":7,"x":1996,"y":0.99},{"s":7,"x":1997,"y":0.88},{"s":7,"x":1998,"y":0.75},{"s":7,"x":1999,"y":0.64},{"s":7,"x":2000,"y":0.55},{"s":7,"x":2001,"y":0.47},{"s":7,"x":2002,"y":0.41},{"s":7,"x":2003,"y":0.37},{"s":7,"x":2004,"y":0.44},{"s":7,"x":2005,"y":0.42},{"s":7,"x":2006,"y":0.38},{"s":7,"x":2007,"y":0.36},{"s":7,"x":2008,"y":0.34},{"s":7,"x":2009,"y":0.35},{"s":7,"x":2010,"y":0.37},{"s":7,"x":2011,"y":0.36},{"s":7,"x":2012,"y":0.34},{"s":7,"x":2013,"y":0.34},
{"s":8,"x":1996,"y":0.99},{"s":8,"x":1997,"y":0.88},{"s":8,"x":1998,"y":0.75},{"s":8,"x":1999,"y":0.63},{"s":8,"x":2000,"y":0.54},{"s":8,"x":2001,"y":0.45},{"s":8,"x":2002,"y":0.39},{"s":8,"x":2003,"y":0.35},{"s":8,"x":2004,"y":0.41},{"s":8,"x":2005,"y":0.39},{"s":8,"x":2006,"y":0.35},{"s":8,"x":2007,"y":0.32},{"s":8,"x":2008,"y":0.3},{"s":8,"x":2009,"y":0.31},{"s":8,"x":2010,"y":0.33},{"s":8,"x":2011,"y":0.31},{"s":8,"x":2012,"y":0.29},{"s":8,"x":2013,"y":0.3},
{"s":9,"x":1996,"y":0.99},{"s":9,"x":1997,"y":0.88},{"s":9,"x":1998,"y":0.74},{"s":9,"x":1999,"y":0.62},{"s":9,"x":2000,"y":0.53},{"s":9,"x":2001,"y":0.44},{"s":9,"x":2002,"y":0.37},{"s":9,"x":2003,"y":0.33},{"s":9,"x":2004,"y":0.39},{"s":9,"x":2005,"y":0.37},{"s":9,"x":2006,"y":0.33},{"s":9,"x":2007,"y":0.3},{"s":9,"x":2008,"y":0.27},{"s":9,"x":2009,"y":0.28},{"s":9,"x":2010,"y":0.3},{"s":9,"x":2011,"y":0.28},{"s":9,"x":2012,"y":0.27},{"s":9,"x":2013,"y":0.28},
{"s":10,"x":1996,"y":0.99},{"s":10,"x":1997,"y":0.87},{"s":10,"x":1998,"y":0.73},{"s":10,"x":1999,"y":0.61},{"s":10,"x":2000,"y":0.52},{"s":10,"x":2001,"y":0.43},{"s":10,"x":2002,"y":0.36},{"s":10,"x":2003,"y":0.32},{"s":10,"x":2004,"y":0.38},{"s":10,"x":2005,"y":0.35},{"s":10,"x":2006,"y":0.31},{"s":10,"x":2007,"y":0.28},{"s":10,"x":2008,"y":0.25},{"s":10,"x":2009,"y":0.25},{"s":10,"x":2010,"y":0.27},{"s":10,"x":2011,"y":0.25},{"s":10,"x":2012,"y":0.23},{"s":10,"x":2013,"y":0.25},
{"s":11,"x":1996,"y":0.99},{"s":11,"x":1997,"y":0.87},{"s":11,"x":1998,"y":0.72},{"s":11,"x":1999,"y":0.6},{"s":11,"x":2000,"y":0.51},{"s":11,"x":2001,"y":0.42},{"s":11,"x":2002,"y":0.35},{"s":11,"x":2003,"y":0.31},{"s":11,"x":2004,"y":0.37},{"s":11,"x":2005,"y":0.33},{"s":11,"x":2006,"y":0.29},{"s":11,"x":2007,"y":0.26},{"s":11,"x":2008,"y":0.22},{"s":11,"x":2009,"y":0.22},{"s":11,"x":2010,"y":0.24},{"s":11,"x":2011,"y":0.22},{"s":11,"x":2012,"y":0.2},{"s":11,"x":2013,"y":0.21},
{"s":12,"x":1996,"y":0.99},{"s":12,"x":1997,"y":0.87},{"s":12,"x":1998,"y":0.71},{"s":12,"x":1999,"y":0.58},{"s":12,"x":2000,"y":0.5},{"s":12,"x":2001,"y":0.41},{"s":12,"x":2002,"y":0.35},{"s":12,"x":2003,"y":0.3},{"s":12,"x":2004,"y":0.36},{"s":12,"x":2005,"y":0.32},{"s":12,"x":2006,"y":0.27},{"s":12,"x":2007,"y":0.24},{"s":12,"x":2008,"y":0.2},{"s":12,"x":2009,"y":0.2},{"s":12,"x":2010,"y":0.22},{"s":12,"x":2011,"y":0.2},{"s":12,"x":2012,"y":0.18},{"s":12,"x":2013,"y":0.18}
],
"ros":[
{"s":1,"x":1996,"y":1},{"s":1,"x":1998,"y":1},{"s":1,"x":2000,"y":1},{"s":1,"x":2001,"y":1},{"s":1,"x":2002,"y":2},{"s":1,"x":2003,"y":4},{"s":1,"x":2004,"y":6},{"s":1,"x":2005,"y":10},{"s":1,"x":2006,"y":15},{"s":1,"x":2007,"y":32},{"s":1,"x":2008,"y":45},{"s":1,"x":2009,"y":65},{"s":1,"x":2010,"y":95},{"s":1,"x":2011,"y":125},{"s":1,"x":2012,"y":170},{"s":1,"x":2013,"y":262},
{"s":2,"x":1996,"y":1},{"s":2,"x":1998,"y":1},{"s":2,"x":2000,"y":1},{"s":2,"x":2001,"y":1},{"s":2,"x":2002,"y":2},{"s":2,"x":2003,"y":4},{"s":2,"x":2004,"y":6},{"s":2,"x":2005,"y":10},{"s":2,"x":2006,"y":15},{"s":2,"x":2007,"y":30},{"s":2,"x":2008,"y":44},{"s":2,"x":2009,"y":62},{"s":2,"x":2010,"y":90},{"s":2,"x":2011,"y":120},{"s":2,"x":2012,"y":165},{"s":2,"x":2013,"y":250},
{"s":3,"x":1996,"y":1},{"s":3,"x":1998,"y":1},{"s":3,"x":2000,"y":1},{"s":3,"x":2001,"y":1},{"s":3,"x":2002,"y":2},{"s":3,"x":2003,"y":4},{"s":3,"x":2004,"y":6},{"s":3,"x":2005,"y":10},{"s":3,"x":2006,"y":14},{"s":3,"x":2007,"y":28},{"s":3,"x":2008,"y":40},{"s":3,"x":2009,"y":58},{"s":3,"x":2010,"y":82},{"s":3,"x":2011,"y":110},{"s":3,"x":2012,"y":148},{"s":3,"x":2013,"y":212},
{"s":4,"x":1996,"y":1},{"s":4,"x":1998,"y":1},{"s":4,"x":2000,"y":1},{"s":4,"x":2001,"y":1},{"s":4,"x":2002,"y":2},{"s":4,"x":2003,"y":4},{"s":4,"x":2004,"y":6},{"s":4,"x":2005,"y":10},{"s":4,"x":2006,"y":14},{"s":4,"x":2007,"y":26},{"s":4,"x":2008,"y":36},{"s":4,"x":2009,"y":52},{"s":4,"x":2010,"y":72},{"s":4,"x":2011,"y":96},{"s":4,"x":2012,"y":128},{"s":4,"x":2013,"y":180},
{"s":5,"x":1996,"y":1},{"s":5,"x":1998,"y":1},{"s":5,"x":2000,"y":1},{"s":5,"x":2001,"y":1},{"s":5,"x":2002,"y":2},{"s":5,"x":2003,"y":4},{"s":5,"x":2004,"y":6},{"s":5,"x":2005,"y":9},{"s":5,"x":2006,"y":13},{"s":5,"x":2007,"y":24},{"s":5,"x":2008,"y":32},{"s":5,"x":2009,"y":46},{"s":5,"x":2010,"y":62},{"s":5,"x":2011,"y":82},{"s":5,"x":2012,"y":108},{"s":5,"x":2013,"y":152},
{"s":6,"x":1996,"y":1},{"s":6,"x":1998,"y":1},{"s":6,"x":2000,"y":1},{"s":6,"x":2001,"y":1},{"s":6,"x":2002,"y":2},{"s":6,"x":2003,"y":4},{"s":6,"x":2004,"y":6},{"s":6,"x":2005,"y":9},{"s":6,"x":2006,"y":13},{"s":6,"x":2007,"y":22},{"s":6,"x":2008,"y":30},{"s":6,"x":2009,"y":42},{"s":6,"x":2010,"y":56},{"s":6,"x":2011,"y":72},{"s":6,"x":2012,"y":96},{"s":6,"x":2013,"y":130},
{"s":7,"x":1996,"y":1},{"s":7,"x":1998,"y":1},{"s":7,"x":2000,"y":1},{"s":7,"x":2001,"y":1},{"s":7,"x":2002,"y":2},{"s":7,"x":2003,"y":4},{"s":7,"x":2004,"y":6},{"s":7,"x":2005,"y":9},{"s":7,"x":2006,"y":12},{"s":7,"x":2007,"y":21},{"s":7,"x":2008,"y":28},{"s":7,"x":2009,"y":38},{"s":7,"x":2010,"y":50},{"s":7,"x":2011,"y":64},{"s":7,"x":2012,"y":84},{"s":7,"x":2013,"y":115},
{"s":8,"x":1996,"y":1},{"s":8,"x":1998,"y":1},{"s":8,"x":2000,"y":1},{"s":8,"x":2001,"y":1},{"s":8,"x":2002,"y":2},{"s":8,"x":2003,"y":4},{"s":8,"x":2004,"y":5},{"s":8,"x":2005,"y":8},{"s":8,"x":2006,"y":12},{"s":8,"x":2007,"y":20},{"s":8,"x":2008,"y":26},{"s":8,"x":2009,"y":34},{"s":8,"x":2010,"y":45},{"s":8,"x":2011,"y":56},{"s":8,"x":2012,"y":72},{"s":8,"x":2013,"y":96},
{"s":9,"x":1996,"y":1},{"s":9,"x":1998,"y":1},{"s":9,"x":2000,"y":1},{"s":9,"x":2001,"y":1},{"s":9,"x":2002,"y":2},{"s":9,"x":2003,"y":3},{"s":9,"x":2004,"y":5},{"s":9,"x":2005,"y":8},{"s":9,"x":2006,"y":11},{"s":9,"x":2007,"y":18},{"s":9,"x":2008,"y":23},{"s":9,"x":2009,"y":30},{"s":9,"x":2010,"y":38},{"s":9,"x":2011,"y":48},{"s":9,"x":2012,"y":60},{"s":9,"x":2013,"y":70},
{"s":10,"x":1996,"y":1},{"s":10,"x":1998,"y":1},{"s":10,"x":2000,"y":1},{"s":10,"x":2001,"y":1},{"s":10,"x":2002,"y":2},{"s":10,"x":2003,"y":3},{"s":10,"x":2004,"y":5},{"s":10,"x":2005,"y":8},{"s":10,"x":2006,"y":11},{"s":10,"x":2007,"y":16},{"s":10,"x":2008,"y":20},{"s":10,"x":2009,"y":26},{"s":10,"x":2010,"y":33},{"s":10,"x":2011,"y":40},{"s":10,"x":2012,"y":48},{"s":10,"x":2013,"y":55},
{"s":11,"x":1996,"y":1},{"s":11,"x":1998,"y":1},{"s":11,"x":2000,"y":1},{"s":11,"x":2001,"y":1},{"s":11,"x":2002,"y":2},{"s":11,"x":2003,"y":3},{"s":11,"x":2004,"y":5},{"s":11,"x":2005,"y":7},{"s":11,"x":2006,"y":10},{"s":11,"x":2007,"y":14},{"s":11,"x":2008,"y":17},{"s":11,"x":2009,"y":22},{"s":11,"x":2010,"y":27},{"s":11,"x":2011,"y":32},{"s":11,"x":2012,"y":37},{"s":11,"x":2013,"y":42}
],
"gen":[
{"s":1,"x":1996,"y":1},{"s":1,"x":1997,"y":1.1},{"s":1,"x":1998,"y":1.1},{"s":1,"x":1999,"y":1.05},{"s":1,"x":2000,"y":0.86},{"s":1,"x":2001,"y":0.8},{"s":1,"x":2002,"y":0.9},{"s":1,"x":2003,"y":1.15},{"s":1,"x":2004,"y":1.45},{"s":1,"x":2005,"y":1.65},{"s":1,"x":2006,"y":1.8},{"s":1,"x":2007,"y":2.55},{"s":1,"x":2008,"y":3.1},{"s":1,"x":2009,"y":4.3},{"s":1,"x":2010,"y":5.4},{"s":1,"x":2011,"y":5.9},{"s":1,"x":2012,"y":6.9},{"s":1,"x":2013,"y":8.1},
{"s":2,"x":1996,"y":1},{"s":2,"x":1997,"y":1.1},{"s":2,"x":1998,"y":1.1},{"s":2,"x":1999,"y":1.05},{"s":2,"x":2000,"y":0.86},{"s":2,"x":2001,"y":0.8},{"s":2,"x":2002,"y":0.88},{"s":2,"x":2003,"y":1.05},{"s":2,"x":2004,"y":1.3},{"s":2,"x":2005,"y":1.45},{"s":2,"x":2006,"y":1.55},{"s":2,"x":2007,"y":1.85},{"s":2,"x":2008,"y":2.3},{"s":2,"x":2009,"y":2.9},{"s":2,"x":2010,"y":3.5},{"s":2,"x":2011,"y":3.85},{"s":2,"x":2012,"y":4.35},{"s":2,"x":2013,"y":5.1},
{"s":3,"x":1996,"y":1},{"s":3,"x":1997,"y":1.1},{"s":3,"x":1998,"y":1.1},{"s":3,"x":1999,"y":1.05},{"s":3,"x":2000,"y":0.85},{"s":3,"x":2001,"y":0.79},{"s":3,"x":2002,"y":0.86},{"s":3,"x":2003,"y":0.98},{"s":3,"x":2004,"y":1.15},{"s":3,"x":2005,"y":1.3},{"s":3,"x":2006,"y":1.42},{"s":3,"x":2007,"y":1.65},{"s":3,"x":2008,"y":2},{"s":3,"x":2009,"y":2.5},{"s":3,"x":2010,"y":2.95},{"s":3,"x":2011,"y":3.2},{"s":3,"x":2012,"y":3.6},{"s":3,"x":2013,"y":4.3},
{"s":4,"x":1996,"y":1},{"s":4,"x":1997,"y":1.1},{"s":4,"x":1998,"y":1.1},{"s":4,"x":1999,"y":1.05},{"s":4,"x":2000,"y":0.85},{"s":4,"x":2001,"y":0.79},{"s":4,"x":2002,"y":0.85},{"s":4,"x":2003,"y":0.96},{"s":4,"x":2004,"y":1.12},{"s":4,"x":2005,"y":1.27},{"s":4,"x":2006,"y":1.38},{"s":4,"x":2007,"y":1.6},{"s":4,"x":2008,"y":1.9},{"s":4,"x":2009,"y":2.35},{"s":4,"x":2010,"y":2.75},{"s":4,"x":2011,"y":3.05},{"s":4,"x":2012,"y":3.4},{"s":4,"x":2013,"y":4},
{"s":5,"x":1996,"y":1},{"s":5,"x":1997,"y":1.1},{"s":5,"x":1998,"y":1.1},{"s":5,"x":1999,"y":1.05},{"s":5,"x":2000,"y":0.85},{"s":5,"x":2001,"y":0.78},{"s":5,"x":2002,"y":0.84},{"s":5,"x":2003,"y":0.94},{"s":5,"x":2004,"y":1.1},{"s":5,"x":2005,"y":1.24},{"s":5,"x":2006,"y":1.34},{"s":5,"x":2007,"y":1.55},{"s":5,"x":2008,"y":1.82},{"s":5,"x":2009,"y":2.25},{"s":5,"x":2010,"y":2.62},{"s":5,"x":2011,"y":2.9},{"s":5,"x":2012,"y":3.2},{"s":5,"x":2013,"y":3.8},
{"s":6,"x":1996,"y":1},{"s":6,"x":1997,"y":1.1},{"s":6,"x":1998,"y":1.1},{"s":6,"x":1999,"y":1.05},{"s":6,"x":2000,"y":0.85},{"s":6,"x":2001,"y":0.78},{"s":6,"x":2002,"y":0.83},{"s":6,"x":2003,"y":0.92},{"s":6,"x":2004,"y":1.07},{"s":6,"x":2005,"y":1.2},{"s":6,"x":2006,"y":1.3},{"s":6,"x":2007,"y":1.5},{"s":6,"x":2008,"y":1.75},{"s":6,"x":2009,"y":2.12},{"s":6,"x":2010,"y":2.48},{"s":6,"x":2011,"y":2.72},{"s":6,"x":2012,"y":3},{"s":6,"x":2013,"y":3.5},
{"s":7,"x":1996,"y":1},{"s":7,"x":1997,"y":1.1},{"s":7,"x":1998,"y":1.1},{"s":7,"x":1999,"y":1.05},{"s":7,"x":2000,"y":0.84},{"s":7,"x":2001,"y":0.77},{"s":7,"x":2002,"y":0.82},{"s":7,"x":2003,"y":0.9},{"s":7,"x":2004,"y":1.04},{"s":7,"x":2005,"y":1.16},{"s":7,"x":2006,"y":1.25},{"s":7,"x":2007,"y":1.43},{"s":7,"x":2008,"y":1.66},{"s":7,"x":2009,"y":2},{"s":7,"x":2010,"y":2.32},{"s":7,"x":2011,"y":2.55},{"s":7,"x":2012,"y":2.78},{"s":7,"x":2013,"y":3.2},
{"s":8,"x":1996,"y":1},{"s":8,"x":1997,"y":1.1},{"s":8,"x":1998,"y":1.1},{"s":8,"x":1999,"y":1.05},{"s":8,"x":2000,"y":0.84},{"s":8,"x":2001,"y":0.77},{"s":8,"x":2002,"y":0.81},{"s":8,"x":2003,"y":0.88},{"s":8,"x":2004,"y":1},{"s":8,"x":2005,"y":1.12},{"s":8,"x":2006,"y":1.2},{"s":8,"x":2007,"y":1.37},{"s":8,"x":2008,"y":1.58},{"s":8,"x":2009,"y":1.9},{"s":8,"x":2010,"y":2.18},{"s":8,"x":2011,"y":2.4},{"s":8,"x":2012,"y":2.6},{"s":8,"x":2013,"y":2.9},
{"s":9,"x":1996,"y":1},{"s":9,"x":1997,"y":1.1},{"s":9,"x":1998,"y":1.1},{"s":9,"x":1999,"y":1.05},{"s":9,"x":2000,"y":0.84},{"s":9,"x":2001,"y":0.76},{"s":9,"x":2002,"y":0.8},{"s":9,"x":2003,"y":0.86},{"s":9,"x":2004,"y":0.97},{"s":9,"x":2005,"y":1.08},{"s":9,"x":2006,"y":1.15},{"s":9,"x":2007,"y":1.3},{"s":9,"x":2008,"y":1.5},{"s":9,"x":2009,"y":1.78},{"s":9,"x":2010,"y":2.05},{"s":9,"x":2011,"y":2.25},{"s":9,"x":2012,"y":2.42},{"s":9,"x":2013,"y":2.7},
{"s":10,"x":1996,"y":1},{"s":10,"x":1997,"y":1.1},{"s":10,"x":1998,"y":1.1},{"s":10,"x":1999,"y":1.05},{"s":10,"x":2000,"y":0.83},{"s":10,"x":2001,"y":0.76},{"s":10,"x":2002,"y":0.79},{"s":10,"x":2003,"y":0.84},{"s":10,"x":2004,"y":0.94},{"s":10,"x":2005,"y":1.04},{"s":10,"x":2006,"y":1.1},{"s":10,"x":2007,"y":1.24},{"s":10,"x":2008,"y":1.42},{"s":10,"x":2009,"y":1.66},{"s":10,"x":2010,"y":1.9},{"s":10,"x":2011,"y":2.1},{"s":10,"x":2012,"y":2.25},{"s":10,"x":2013,"y":2.5},
{"s":11,"x":1996,"y":1},{"s":11,"x":1997,"y":1.1},{"s":11,"x":1998,"y":1.1},{"s":11,"x":1999,"y":1.05},{"s":11,"x":2000,"y":0.83},{"s":11,"x":2001,"y":0.75},{"s":11,"x":2002,"y":0.78},{"s":11,"x":2003,"y":0.82},{"s":11,"x":2004,"y":0.9},{"s":11,"x":2005,"y":0.96},{"s":11,"x":2006,"y":1},{"s":11,"x":2007,"y":1.1},{"s":11,"x":2008,"y":1.28},{"s":11,"x":2009,"y":1.5},{"s":11,"x":2010,"y":1.7},{"s":11,"x":2011,"y":1.85},{"s":11,"x":2012,"y":1.95},{"s":11,"x":2013,"y":2.2}
],
"kri":[
{"s":1,"x":1996,"y":1},{"s":1,"x":1996.2,"y":1.05},{"s":1,"x":1996.5,"y":0.75},{"s":1,"x":1996.75,"y":0.45},{"s":1,"x":1997.15,"y":0.7},{"s":1,"x":1997.4,"y":0.55},{"s":1,"x":1997.8,"y":0.27},{"s":1,"x":1998.25,"y":0.65},{"s":1,"x":1998.5,"y":0.5},{"s":1,"x":1998.8,"y":0.18},{"s":1,"x":1999.2,"y":0.2},{"s":1,"x":1999.5,"y":0.14},{"s":1,"x":1999.8,"y":0.07},{"s":1,"x":2000,"y":0.08},
{"s":1,"x":2000.2,"y":0.55},{"s":1,"x":2000.5,"y":0.35},{"s":1,"x":2000.9,"y":0.75},{"s":1,"x":2001.2,"y":0.72},{"s":1,"x":2001.6,"y":0.3},{"s":1,"x":2002,"y":0.1},{"s":1,"x":2002.3,"y":0.5},{"s":1,"x":2002.6,"y":0.35},{"s":1,"x":2002.8,"y":0.25},{"s":1,"x":2003.1,"y":1.43},{"s":1,"x":2003.5,"y":0.47},{"s":1,"x":2003.8,"y":0.15},{"s":1,"x":2004.3,"y":1.47},{"s":1,"x":2004.7,"y":0.63},{"s":1,"x":2005.1,"y":0.83},{"s":1,"x":2005.5,"y":0.22},{"s":1,"x":2005.8,"y":0.15},{"s":1,"x":2006.25,"y":2.9},{"s":1,"x":2006.6,"y":1.6},{"s":1,"x":2007,"y":1.03},{"s":1,"x":2007.5,"y":0.63},{"s":1,"x":2007.9,"y":0.1},{"s":1,"x":2008.3,"y":2.36},{"s":1,"x":2008.6,"y":1.3},{"s":1,"x":2009.1,"y":2.32},{"s":1,"x":2009.5,"y":1.4},{"s":1,"x":2009.8,"y":0.79},{"s":1,"x":2010.1,"y":0.83},{"s":1,"x":2010.5,"y":0.3},{"s":1,"x":2010.9,"y":0.15},{"s":1,"x":2011.3,"y":1.35},{"s":1,"x":2011.6,"y":0.55},{"s":1,"x":2011.9,"y":0.18},{"s":1,"x":2012.2,"y":1.03},{"s":1,"x":2012.4,"y":0.8},{"s":1,"x":2012.7,"y":0.3},{"s":1,"x":2013,"y":1.4},
{"s":2,"x":1996,"y":1},{"s":2,"x":1996.2,"y":1.05},{"s":2,"x":1996.5,"y":0.75},{"s":2,"x":1996.75,"y":0.45},{"s":2,"x":1997.15,"y":0.7},{"s":2,"x":1997.4,"y":0.55},{"s":2,"x":1997.8,"y":0.27},{"s":2,"x":1998.25,"y":0.65},{"s":2,"x":1998.5,"y":0.5},{"s":2,"x":1998.8,"y":0.18},{"s":2,"x":1999.2,"y":0.2},{"s":2,"x":1999.5,"y":0.14},{"s":2,"x":1999.8,"y":0.07},{"s":2,"x":2000,"y":0.08},
{"s":2,"x":2000.2,"y":0.25},{"s":2,"x":2000.5,"y":0.15},{"s":2,"x":2000.9,"y":0.38},{"s":2,"x":2001.2,"y":0.38},{"s":2,"x":2001.6,"y":0.2},{"s":2,"x":2002,"y":0.07},{"s":2,"x":2002.3,"y":0.3},{"s":2,"x":2002.6,"y":0.2},{"s":2,"x":2002.8,"y":0.15},{"s":2,"x":2003.1,"y":1.02},{"s":2,"x":2003.5,"y":0.4},{"s":2,"x":2003.8,"y":0.14},{"s":2,"x":2004.3,"y":1.2},{"s":2,"x":2004.7,"y":0.5},{"s":2,"x":2005.1,"y":0.65},{"s":2,"x":2005.5,"y":0.2},{"s":2,"x":2005.8,"y":0.13},{"s":2,"x":2006.25,"y":1.5},{"s":2,"x":2006.6,"y":0.9},{"s":2,"x":2007,"y":0.55},{"s":2,"x":2007.5,"y":0.4},{"s":2,"x":2007.9,"y":0.08},{"s":2,"x":2008.3,"y":1.6},{"s":2,"x":2008.6,"y":0.9},{"s":2,"x":2009.1,"y":1.6},{"s":2,"x":2009.5,"y":1},{"s":2,"x":2009.8,"y":0.55},{"s":2,"x":2010.1,"y":0.62},{"s":2,"x":2010.5,"y":0.25},{"s":2,"x":2010.9,"y":0.13},{"s":2,"x":2011.3,"y":0.85},{"s":2,"x":2011.6,"y":0.4},{"s":2,"x":2011.9,"y":0.14},{"s":2,"x":2012.2,"y":0.98},{"s":2,"x":2012.4,"y":0.7},{"s":2,"x":2012.7,"y":0.25},{"s":2,"x":2013,"y":0.6},
{"s":3,"x":1996,"y":1},{"s":3,"x":1996.2,"y":1.05},{"s":3,"x":1996.5,"y":0.74},{"s":3,"x":1996.75,"y":0.44},{"s":3,"x":1997.15,"y":0.69},{"s":3,"x":1997.4,"y":0.54},{"s":3,"x":1997.8,"y":0.26},{"s":3,"x":1998.25,"y":0.64},{"s":3,"x":1998.5,"y":0.49},{"s":3,"x":1998.8,"y":0.18},{"s":3,"x":1999.2,"y":0.19},{"s":3,"x":1999.5,"y":0.13},{"s":3,"x":1999.8,"y":0.07},{"s":3,"x":2000,"y":0.08},
{"s":3,"x":2000.2,"y":0.22},{"s":3,"x":2000.5,"y":0.13},{"s":3,"x":2000.9,"y":0.35},{"s":3,"x":2001.2,"y":0.35},{"s":3,"x":2001.6,"y":0.18},{"s":3,"x":2002,"y":0.06},{"s":3,"x":2002.3,"y":0.25},{"s":3,"x":2002.6,"y":0.17},{"s":3,"x":2002.8,"y":0.13},{"s":3,"x":2003.1,"y":0.95},{"s":3,"x":2003.5,"y":0.38},{"s":3,"x":2003.8,"y":0.13},{"s":3,"x":2004.3,"y":1.1},{"s":3,"x":2004.7,"y":0.48},{"s":3,"x":2005.1,"y":0.6},{"s":3,"x":2005.5,"y":0.2},{"s":3,"x":2005.8,"y":0.13},{"s":3,"x":2006.25,"y":1.3},{"s":3,"x":2006.6,"y":0.75},{"s":3,"x":2007,"y":0.45},{"s":3,"x":2007.5,"y":0.35},{"s":3,"x":2007.9,"y":0.07},{"s":3,"x":2008.3,"y":1.45},{"s":3,"x":2008.6,"y":0.8},{"s":3,"x":2009.1,"y":1.5},{"s":3,"x":2009.5,"y":0.9},{"s":3,"x":2009.8,"y":0.5},{"s":3,"x":2010.1,"y":0.55},{"s":3,"x":2010.5,"y":0.22},{"s":3,"x":2010.9,"y":0.12},{"s":3,"x":2011.3,"y":0.75},{"s":3,"x":2011.6,"y":0.35},{"s":3,"x":2011.9,"y":0.13},{"s":3,"x":2012.2,"y":0.9},{"s":3,"x":2012.4,"y":0.6},{"s":3,"x":2012.7,"y":0.22},{"s":3,"x":2013,"y":0.55},
{"s":4,"x":1996,"y":1},{"s":4,"x":1996.2,"y":1.04},{"s":4,"x":1996.5,"y":0.74},{"s":4,"x":1996.75,"y":0.44},{"s":4,"x":1997.15,"y":0.69},{"s":4,"x":1997.4,"y":0.54},{"s":4,"x":1997.8,"y":0.26},{"s":4,"x":1998.25,"y":0.63},{"s":4,"x":1998.5,"y":0.49},{"s":4,"x":1998.8,"y":0.17},{"s":4,"x":1999.2,"y":0.19},{"s":4,"x":1999.5,"y":0.13},{"s":4,"x":1999.8,"y":0.07},{"s":4,"x":2000,"y":0.08},
{"s":4,"x":2000.2,"y":0.2},{"s":4,"x":2000.5,"y":0.12},{"s":4,"x":2000.9,"y":0.33},{"s":4,"x":2001.2,"y":0.33},{"s":4,"x":2001.6,"y":0.17},{"s":4,"x":2002,"y":0.06},{"s":4,"x":2002.3,"y":0.22},{"s":4,"x":2002.6,"y":0.15},{"s":4,"x":2002.8,"y":0.12},{"s":4,"x":2003.1,"y":0.85},{"s":4,"x":2003.5,"y":0.36},{"s":4,"x":2003.8,"y":0.13},{"s":4,"x":2004.3,"y":1},{"s":4,"x":2004.7,"y":0.45},{"s":4,"x":2005.1,"y":0.55},{"s":4,"x":2005.5,"y":0.2},{"s":4,"x":2005.8,"y":0.13},{"s":4,"x":2006.25,"y":1.15},{"s":4,"x":2006.6,"y":0.65},{"s":4,"x":2007,"y":0.4},{"s":4,"x":2007.5,"y":0.3},{"s":4,"x":2007.9,"y":0.07},{"s":4,"x":2008.3,"y":1.3},{"s":4,"x":2008.6,"y":0.7},{"s":4,"x":2009.1,"y":1.35},{"s":4,"x":2009.5,"y":0.8},{"s":4,"x":2009.8,"y":0.45},{"s":4,"x":2010.1,"y":0.5},{"s":4,"x":2010.5,"y":0.2},{"s":4,"x":2010.9,"y":0.11},{"s":4,"x":2011.3,"y":0.6},{"s":4,"x":2011.6,"y":0.3},{"s":4,"x":2011.9,"y":0.12},{"s":4,"x":2012.2,"y":0.8},{"s":4,"x":2012.4,"y":0.55},{"s":4,"x":2012.7,"y":0.2},{"s":4,"x":2013,"y":0.5},
{"s":5,"x":1996,"y":1},{"s":5,"x":1996.2,"y":1.03},{"s":5,"x":1996.5,"y":0.73},{"s":5,"x":1996.75,"y":0.43},{"s":5,"x":1997.15,"y":0.68},{"s":5,"x":1997.4,"y":0.53},{"s":5,"x":1997.8,"y":0.25},{"s":5,"x":1998.25,"y":0.62},{"s":5,"x":1998.5,"y":0.48},{"s":5,"x":1998.8,"y":0.17},{"s":5,"x":1999.2,"y":0.18},{"s":5,"x":1999.5,"y":0.13},{"s":5,"x":1999.8,"y":0.06},{"s":5,"x":2000,"y":0.07},
{"s":5,"x":2000.2,"y":0.18},{"s":5,"x":2000.5,"y":0.11},{"s":5,"x":2000.9,"y":0.3},{"s":5,"x":2001.2,"y":0.3},{"s":5,"x":2001.6,"y":0.16},{"s":5,"x":2002,"y":0.05},{"s":5,"x":2002.3,"y":0.2},{"s":5,"x":2002.6,"y":0.13},{"s":5,"x":2002.8,"y":0.11},{"s":5,"x":2003.1,"y":0.75},{"s":5,"x":2003.5,"y":0.34},{"s":5,"x":2003.8,"y":0.12},{"s":5,"x":2004.3,"y":0.9},{"s":5,"x":2004.7,"y":0.42},{"s":5,"x":2005.1,"y":0.52},{"s":5,"x":2005.5,"y":0.2},{"s":5,"x":2005.8,"y":0.12},{"s":5,"x":2006.25,"y":1},{"s":5,"x":2006.6,"y":0.55},{"s":5,"x":2007,"y":0.35},{"s":5,"x":2007.5,"y":0.25},{"s":5,"x":2007.9,"y":0.06},{"s":5,"x":2008.3,"y":1.05},{"s":5,"x":2008.6,"y":0.6},{"s":5,"x":2009.1,"y":1.1},{"s":5,"x":2009.5,"y":0.7},{"s":5,"x":2009.8,"y":0.4},{"s":5,"x":2010.1,"y":0.45},{"s":5,"x":2010.5,"y":0.18},{"s":5,"x":2010.9,"y":0.1},{"s":5,"x":2011.3,"y":0.45},{"s":5,"x":2011.6,"y":0.25},{"s":5,"x":2011.9,"y":0.1},{"s":5,"x":2012.2,"y":0.7},{"s":5,"x":2012.4,"y":0.5},{"s":5,"x":2012.7,"y":0.18},{"s":5,"x":2013,"y":0.45},
{"s":6,"x":1996,"y":1},{"s":6,"x":1996.2,"y":1.03},{"s":6,"x":1996.5,"y":0.73},{"s":6,"x":1996.75,"y":0.43},{"s":6,"x":1997.15,"y":0.68},{"s":6,"x":1997.4,"y":0.53},{"s":6,"x":1997.8,"y":0.25},{"s":6,"x":1998.25,"y":0.62},{"s":6,"x":1998.5,"y":0.48},{"s":6,"x":1998.8,"y":0.17},{"s":6,"x":1999.2,"y":0.18},{"s":6,"x":1999.5,"y":0.12},{"s":6,"x":1999.8,"y":0.06},{"s":6,"x":2000,"y":0.07},
{"s":6,"x":2000.2,"y":0.17},{"s":6,"x":2000.5,"y":0.1},{"s":6,"x":2000.9,"y":0.28},{"s":6,"x":2001.2,"y":0.28},{"s":6,"x":2001.6,"y":0.15},{"s":6,"x":2002,"y":0.05},{"s":6,"x":2002.3,"y":0.18},{"s":6,"x":2002.6,"y":0.12},{"s":6,"x":2002.8,"y":0.1},{"s":6,"x":2003.1,"y":0.65},{"s":6,"x":2003.5,"y":0.32},{"s":6,"x":2003.8,"y":0.12},{"s":6,"x":2004.3,"y":0.75},{"s":6,"x":2004.7,"y":0.4},{"s":6,"x":2005.1,"y":0.5},{"s":6,"x":2005.5,"y":0.2},{"s":6,"x":2005.8,"y":0.12},{"s":6,"x":2006.25,"y":0.8},{"s":6,"x":2006.6,"y":0.45},{"s":6,"x":2007,"y":0.3},{"s":6,"x":2007.5,"y":0.22},{"s":6,"x":2007.9,"y":0.06},{"s":6,"x":2008.3,"y":0.95},{"s":6,"x":2008.6,"y":0.55},{"s":6,"x":2009.1,"y":1},{"s":6,"x":2009.5,"y":0.62},{"s":6,"x":2009.8,"y":0.35},{"s":6,"x":2010.1,"y":0.4},{"s":6,"x":2010.5,"y":0.17},{"s":6,"x":2010.9,"y":0.1},{"s":6,"x":2011.3,"y":0.3},{"s":6,"x":2011.6,"y":0.2},{"s":6,"x":2011.9,"y":0.08},{"s":6,"x":2012.2,"y":0.6},{"s":6,"x":2012.4,"y":0.45},{"s":6,"x":2012.7,"y":0.16},{"s":6,"x":2013,"y":0.4},
{"s":7,"x":1996,"y":1},{"s":7,"x":1996.2,"y":1.02},{"s":7,"x":1996.5,"y":0.72},{"s":7,"x":1996.75,"y":0.42},{"s":7,"x":1997.15,"y":0.67},{"s":7,"x":1997.4,"y":0.52},{"s":7,"x":1997.8,"y":0.24},{"s":7,"x":1998.25,"y":0.61},{"s":7,"x":1998.5,"y":0.47},{"s":7,"x":1998.8,"y":0.16},{"s":7,"x":1999.2,"y":0.18},{"s":7,"x":1999.5,"y":0.12},{"s":7,"x":1999.8,"y":0.06},{"s":7,"x":2000,"y":0.07},
{"s":7,"x":2000.2,"y":0.16},{"s":7,"x":2000.5,"y":0.1},{"s":7,"x":2000.9,"y":0.26},{"s":7,"x":2001.2,"y":0.26},{"s":7,"x":2001.6,"y":0.15},{"s":7,"x":2002,"y":0.05},{"s":7,"x":2002.3,"y":0.16},{"s":7,"x":2002.6,"y":0.11},{"s":7,"x":2002.8,"y":0.1},{"s":7,"x":2003.1,"y":0.58},{"s":7,"x":2003.5,"y":0.3},{"s":7,"x":2003.8,"y":0.12},{"s":7,"x":2004.3,"y":0.65},{"s":7,"x":2004.7,"y":0.38},{"s":7,"x":2005.1,"y":0.48},{"s":7,"x":2005.5,"y":0.2},{"s":7,"x":2005.8,"y":0.12},{"s":7,"x":2006.25,"y":0.65},{"s":7,"x":2006.6,"y":0.38},{"s":7,"x":2007,"y":0.25},{"s":7,"x":2007.5,"y":0.18},{"s":7,"x":2007.9,"y":0.05},{"s":7,"x":2008.3,"y":0.8},{"s":7,"x":2008.6,"y":0.5},{"s":7,"x":2009.1,"y":0.85},{"s":7,"x":2009.5,"y":0.55},{"s":7,"x":2009.8,"y":0.32},{"s":7,"x":2010.1,"y":0.38},{"s":7,"x":2010.5,"y":0.16},{"s":7,"x":2010.9,"y":0.1},{"s":7,"x":2011.3,"y":0.2},{"s":7,"x":2011.6,"y":0.17},{"s":7,"x":2011.9,"y":0.06},{"s":7,"x":2012.2,"y":0.5},{"s":7,"x":2012.4,"y":0.38},{"s":7,"x":2012.7,"y":0.14},{"s":7,"x":2013,"y":0.35},
{"s":8,"x":1996,"y":1},{"s":8,"x":1996.2,"y":1.02},{"s":8,"x":1996.5,"y":0.72},{"s":8,"x":1996.75,"y":0.42},{"s":8,"x":1997.15,"y":0.67},{"s":8,"x":1997.4,"y":0.52},{"s":8,"x":1997.8,"y":0.24},{"s":8,"x":1998.25,"y":0.6},{"s":8,"x":1998.5,"y":0.46},{"s":8,"x":1998.8,"y":0.16},{"s":8,"x":1999.2,"y":0.17},{"s":8,"x":1999.5,"y":0.12},{"s":8,"x":1999.8,"y":0.06},{"s":8,"x":2000,"y":0.07},
{"s":8,"x":2000.2,"y":0.15},{"s":8,"x":2000.5,"y":0.1},{"s":8,"x":2000.9,"y":0.25},{"s":8,"x":2001.2,"y":0.25},{"s":8,"x":2001.6,"y":0.15},{"s":8,"x":2002,"y":0.05},{"s":8,"x":2002.3,"y":0.15},{"s":8,"x":2002.6,"y":0.1},{"s":8,"x":2002.8,"y":0.1},{"s":8,"x":2003.1,"y":0.5},{"s":8,"x":2003.5,"y":0.3},{"s":8,"x":2003.8,"y":0.12},{"s":8,"x":2004.3,"y":0.55},{"s":8,"x":2004.7,"y":0.35},{"s":8,"x":2005.1,"y":0.45},{"s":8,"x":2005.5,"y":0.2},{"s":8,"x":2005.8,"y":0.12},{"s":8,"x":2006.25,"y":0.5},{"s":8,"x":2006.6,"y":0.3},{"s":8,"x":2007,"y":0.2},{"s":8,"x":2007.5,"y":0.15},{"s":8,"x":2007.9,"y":0.05},{"s":8,"x":2008.3,"y":0.7},{"s":8,"x":2008.6,"y":0.45},{"s":8,"x":2009.1,"y":0.75},{"s":8,"x":2009.5,"y":0.5},{"s":8,"x":2009.8,"y":0.3},{"s":8,"x":2010.1,"y":0.35},{"s":8,"x":2010.5,"y":0.15},{"s":8,"x":2010.9,"y":0.1},{"s":8,"x":2011.3,"y":0.15},{"s":8,"x":2011.6,"y":0.15},{"s":8,"x":2011.9,"y":0.05},{"s":8,"x":2012.2,"y":0.4},{"s":8,"x":2012.4,"y":0.3},{"s":8,"x":2012.7,"y":0.12},{"s":8,"x":2013,"y":0.3}
]
},
"vconcat":[
{"spacing":23,"hconcat":[
 {"title":{"text":"Antarctic Fur Seal"},"width":395,"height":132,"data":{"name":"fur"},"mark":{"type":"line"},
  "encoding":{"x":{"field":"x","type":"quantitative","scale":{"domain":[1995.15,2013.85],"nice":false,"zero":false},"axis":{"values":[2000,2005,2010],"format":"d","title":"Year"}},
   "y":{"field":"y","type":"quantitative","scale":{"domain":[0.35,2.17],"nice":false,"zero":false},"axis":{"values":[0.5,1,1.5,2],"format":".1f","title":"B Time T/ B0"}},
   "detail":{"field":"s","type":"nominal"}}},
 {"title":{"text":"C. gunnari","fontStyle":"italic"},"width":390,"height":132,"data":{"name":"gun"},"mark":{"type":"line","interpolate":"monotone"},
  "encoding":{"x":{"field":"x","type":"quantitative","scale":{"domain":[1995.15,2013.85],"nice":false,"zero":false},"axis":{"values":[2000,2005,2010],"format":"d","title":"Year"}},
   "y":{"field":"y","type":"quantitative","scale":{"domain":[-17.7,373],"nice":false,"zero":false},"axis":{"values":[0,100,200,300],"format":"d","title":"B Time T/ B0"}},
   "detail":{"field":"s","type":"nominal"}}}
]},
{"spacing":23,"hconcat":[
 {"title":{"text":"Adélie Penguins"},"width":395,"height":132,"data":{"name":"ade"},"mark":{"type":"line","interpolate":"monotone","strokeWidth":2.2},
  "encoding":{"x":{"field":"x","type":"quantitative","scale":{"domain":[1995.15,2013.85],"nice":false,"zero":false},"axis":{"values":[2000,2005,2010],"format":"d","title":"Year"}},
   "y":{"field":"y","type":"quantitative","scale":{"domain":[0.17,1.06],"nice":false,"zero":false},"axis":{"values":[0.2,0.4,0.6,0.8,1],"format":".1f","title":"B Time T/ B0"}},
   "detail":{"field":"s","type":"nominal"}}},
 {"title":{"text":"C. gibberifrons","fontStyle":"italic","offset":2},"width":386,"height":132,"data":{"name":"gib"},"mark":{"type":"line","interpolate":"monotone","strokeWidth":3.2},
  "encoding":{"x":{"field":"x","type":"quantitative","scale":{"domain":[1995.15,2013.85],"nice":false,"zero":false},"axis":{"values":[2000,2005,2010],"format":"d","title":"Year"}},
   "y":{"field":"y","type":"quantitative","scale":{"domain":[-0.04,1.03],"nice":false,"zero":false},"axis":{"values":[0,0.25,0.5,0.75,1],"format":".2f","title":"B Time T/ B0"}},
   "detail":{"field":"s","type":"nominal"}}}
]},
{"spacing":23,"hconcat":[
 {"title":{"text":"Chinstrap Penguin","offset":3},"width":395,"height":132,"data":{"name":"chi"},"mark":{"type":"line","interpolate":"monotone"},
  "encoding":{"x":{"field":"x","type":"quantitative","scale":{"domain":[1995.15,2013.85],"nice":false,"zero":false},"axis":{"values":[2000,2005,2010],"format":"d","title":"Year"}},
   "y":{"field":"y","type":"quantitative","scale":{"domain":[0.137,1.037],"nice":false,"zero":false},"axis":{"values":[0.25,0.5,0.75,1],"format":".2f","title":"B  Time T/ B0"}},
   "detail":{"field":"s","type":"nominal"}}},
 {"title":{"text":"N. rossii","fontStyle":"italic"},"width":390,"height":132,"data":{"name":"ros"},"mark":{"type":"line","interpolate":"monotone"},
  "encoding":{"x":{"field":"x","type":"quantitative","scale":{"domain":[1995.15,2013.85],"nice":false,"zero":false},"axis":{"values":[2000,2005,2010],"format":"d","title":"Year"}},
   "y":{"field":"y","type":"quantitative","scale":{"domain":[-12,276],"nice":false,"zero":false},"axis":{"values":[0,100,200],"format":"d","title":"B Time T/ B0"}},
   "detail":{"field":"s","type":"nominal"}}}
]},
{"spacing":23,"hconcat":[
 {"title":{"text":"Gentoo Penguin"},"width":395,"height":132,"data":{"name":"gen"},"mark":{"type":"line","interpolate":"monotone"},
  "encoding":{"x":{"field":"x","type":"quantitative","scale":{"domain":[1995.15,2013.85],"nice":false,"zero":false},"axis":{"values":[2000,2005,2010],"format":"d","title":"Year"}},
   "y":{"field":"y","type":"quantitative","scale":{"domain":[0.33,8.55],"nice":false,"zero":false},"axis":{"values":[2,4,6,8],"format":"d","title":"B Time T/ B0"}},
   "detail":{"field":"s","type":"nominal"}}},
 {"title":{"text":"Large Krill","offset":0},"width":410,"height":132,"data":{"name":"kri"},"mark":{"type":"line","interpolate":"monotone"},
  "encoding":{"x":{"field":"x","type":"quantitative","scale":{"domain":[1995.15,2013.85],"nice":false,"zero":false},"axis":{"values":[2000,2005,2010],"format":"d","title":"Year"}},
   "y":{"field":"y","type":"quantitative","scale":{"domain":[-0.1,3.05],"nice":false,"zero":false},"axis":{"values":[0,1,2,3],"format":"d","title":"B Time T/ B0"}},
   "detail":{"field":"s","type":"nominal"}}}
]}
]
}
